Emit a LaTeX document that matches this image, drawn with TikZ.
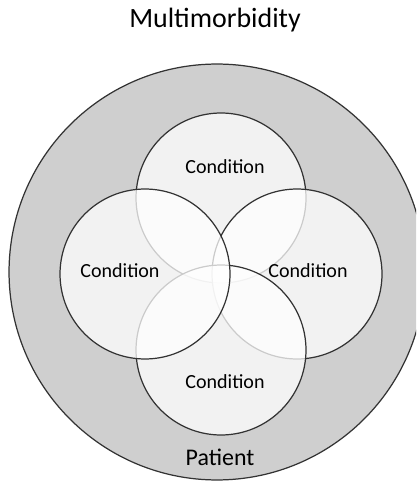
\documentclass[tikz,border=0pt]{standalone}
\usepackage{fontspec}
\setmainfont{Carlito}
\begin{document}
\begin{tikzpicture}[x=0.02cm,y=-0.02cm,
	cond/.style={circle, draw=black!80, line width=0.7pt, fill=white, fill opacity=0.75, minimum size=3.4cm, inner sep=0pt},
	lbl/.style={anchor=base, font=\fontsize{11.4}{13}\selectfont}]
	\useasboundingbox (0,0) rectangle (416,482);
	\clip (0,0) rectangle (416,482);
	\node[anchor=base, font=\fontsize{15.9}{18}\selectfont] (title) at (215,28) {Multimorbidity};
	\node[circle, draw=black!80, line width=0.7pt, fill=black!19, minimum size=8.32cm, inner sep=0pt] (patient) at (217,272) {};
	% the four conditions, drawn in this order so the overlaps show through
	\foreach \name/\x/\y in {ctop/221/198, cright/297/274, cbottom/221/350, cleft/145/274}{
		\node[cond] (\name) at (\x,\y) {};
	}
	\node[lbl] (ltop) at (225,174) {Condition};
	\node[lbl] (lleft) at (120,277) {Condition};
	\node[lbl] (lright) at (308,277) {Condition};
	\node[lbl] (lbottom) at (225,388) {Condition};
	\node[anchor=base, font=\fontsize{13.6}{16}\selectfont] (lpatient) at (220,465) {Patient};
\end{tikzpicture}
\end{document}
